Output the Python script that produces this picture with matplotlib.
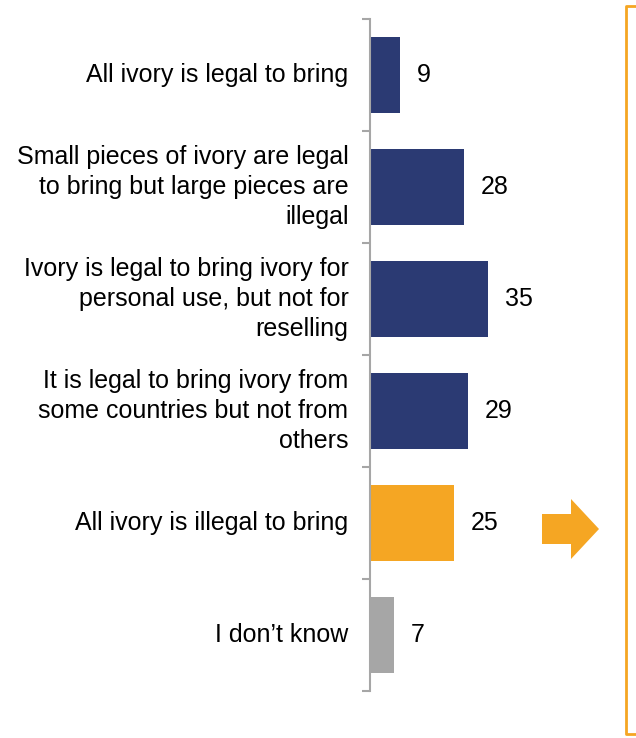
import matplotlib
matplotlib.use("Agg")
import matplotlib.pyplot as plt
from matplotlib.patches import Polygon
from matplotlib.lines import Line2D

plt.rcParams['font.family'] = ['Liberation Sans', 'DejaVu Sans']

categories = [
    "All ivory is legal to bring",
    "Small pieces of ivory are legal\nto bring but large pieces are\nillegal",
    "Ivory is legal to bring ivory for\npersonal use, but not for\nreselling",
    "It is legal to bring ivory from\nsome countries but not from\nothers",
    "All ivory is illegal to bring",
    "I don\u2019t know",
]
values = [9, 28, 35, 29, 25, 7]
navy = "#2B3A73"
orange = "#F5A623"
grey = "#A6A6A6"
colors = [navy, navy, navy, navy, orange, grey]

W, H = 636, 738
fig = plt.figure(figsize=(W / 100, H / 100), dpi=100)

ax_left, ax_right = 370, 545
ax_top, ax_bottom = 19, 691
ax = fig.add_axes([ax_left / W, 1 - ax_bottom / H,
                   (ax_right - ax_left) / W, (ax_bottom - ax_top) / H])

y = list(range(len(values)))
ax.barh(y, values, height=0.68, color=colors, zorder=2)
px_per_unit = 3.37
ax.set_xlim(0, (ax_right - ax_left) / px_per_unit)
ax.set_ylim(len(values) - 0.5, -0.5)

for yi, v in zip(y, values):
    ax.annotate(str(v), (v, yi), xytext=(12, 0), textcoords="offset points",
                va="center", ha="left", fontsize=18, color="#000000")

for s in ["top", "right", "bottom"]:
    ax.spines[s].set_visible(False)
ax.spines["left"].set_color("#A6A6A6")
ax.spines["left"].set_linewidth(1.5)
ax.set_xticks([])
ax.set_yticks([i - 0.5 for i in range(len(values) + 1)])
ax.set_yticklabels([])
ax.tick_params(axis="y", length=6, width=1.5, color="#A6A6A6")

for yi, lab in zip(y, categories):
    ax.annotate(lab, (0, yi), xytext=(-15.5, 0), textcoords="offset points",
                va="center", ha="right", fontsize=18, color="#000000",
                linespacing=1.3)

# arrow pointing to the side panel
def fp(x, yy):
    return (x / W, 1 - yy / H)

arrow_pts = [fp(542, 514), fp(571, 514), fp(571, 499), fp(599, 529),
             fp(571, 559), fp(571, 544), fp(542, 544)]
fig.patches.append(Polygon(arrow_pts, closed=True, facecolor=orange,
                           edgecolor="none", transform=fig.transFigure))

# side panel bracket
fig.lines.append(Line2D([636 / W, 626 / W, 626 / W, 636 / W],
                        [1 - 6 / H, 1 - 6 / H, 1 - 734 / H, 1 - 734 / H],
                        color=orange, linewidth=2, transform=fig.transFigure,
                        solid_joinstyle="round"))

fig.savefig("out.png", dpi=100)
